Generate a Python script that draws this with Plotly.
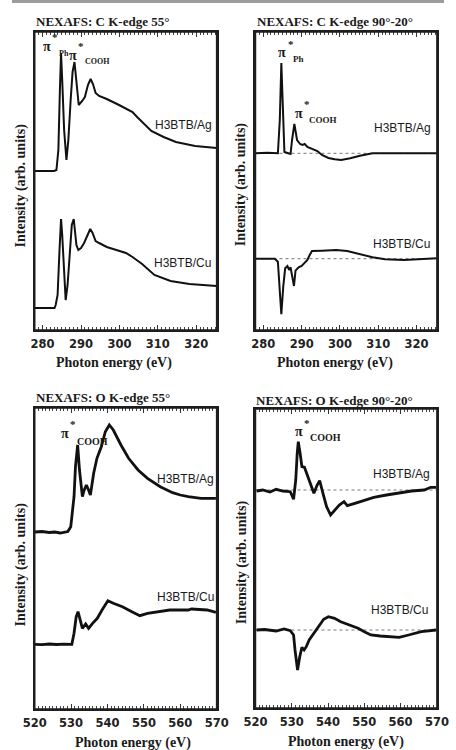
import plotly.graph_objects as go

W, H = 456, 750

# ---------------- data (photon energy in eV, intensity in arb. units) ----------------
# C K-edge 55°
c55_ag_ev = [277.95, 283.0, 283.6, 284.1, 284.5, 284.8, 285.1, 285.6, 286.2, 286.7, 287.3, 287.8,
             288.3, 288.7, 289.1, 289.4, 290.3, 291.0, 291.8, 292.5, 293.1, 293.8, 294.7, 296.7,
             299.9, 301.6, 303.4, 304.6, 305.9, 308.3, 311.5, 314.7, 319.7, 325.3]
c55_ag = [1.59, 1.59, 1.60, 1.80, 2.40, 2.77, 2.50, 2.00, 1.70, 1.90, 2.30, 2.58,
          2.68, 2.50, 2.30, 2.25, 2.29, 2.33, 2.45, 2.51, 2.46, 2.37, 2.34, 2.31,
          2.25, 2.22, 2.18, 2.13, 2.08, 1.99, 1.93, 1.88, 1.84, 1.82]
c55_cu_ev = [277.95, 283.1, 283.4, 283.9, 284.4, 284.8, 285.1, 285.6, 286.0, 286.5, 287.1, 287.6,
             288.1, 288.4, 288.8, 289.3, 290.0, 290.8, 291.8, 292.4, 293.0, 293.8, 294.7, 296.7,
             299.2, 301.7, 303.4, 305.9, 309.1, 313.3, 318.2, 325.3]
c55_cu = [0.22, 0.22, 0.25, 0.35, 0.80, 1.11, 0.95, 0.50, 0.30, 0.45, 0.80, 1.05,
          1.11, 0.98, 0.85, 0.80, 0.82, 0.87, 0.97, 1.01, 0.97, 0.89, 0.87, 0.83,
          0.80, 0.77, 0.73, 0.66, 0.55, 0.49, 0.46, 0.44]

# C K-edge 90°-20° (difference spectra)
c90_ag_ev = [277.95, 281.0, 283.8, 284.3, 284.7, 285.2, 285.5, 286.3, 287.1, 287.5, 288.1, 288.8,
             289.6, 290.2, 290.8, 291.5, 292.1, 292.8, 293.5, 294.1, 295.3, 297.0, 298.6, 300.3,
             302.7, 305.2, 308.5, 313.4, 318.3, 325.3]
c90_ag = [1.767, 1.772, 1.767, 2.10, 2.67, 1.97, 1.78, 1.77, 1.76, 1.90, 2.06, 1.90,
          1.86, 1.85, 1.86, 1.83, 1.82, 1.81, 1.80, 1.79, 1.75, 1.72, 1.707, 1.70,
          1.717, 1.743, 1.767, 1.767, 1.763, 1.767]
c90_cu_ev = [277.95, 283.0, 283.8, 284.3, 284.7, 285.2, 285.7, 286.3, 286.7, 287.1, 288.0, 288.4,
             289.2, 290.0, 290.8, 291.5, 292.1, 292.7, 295.3, 299.0, 301.9, 305.2, 308.5, 311.8,
             316.7, 325.3]
c90_cu = [0.713, 0.713, 0.683, 0.40, 0.157, 0.433, 0.617, 0.64, 0.60, 0.627, 0.44, 0.593,
          0.627, 0.64, 0.667, 0.70, 0.75, 0.79, 0.793, 0.80, 0.79, 0.76, 0.727, 0.707,
          0.70, 0.717]

# O K-edge 55°
o55_ag_ev = [520.0, 522.0, 524.0, 525.5, 527.0, 528.5, 529.1, 529.9, 530.8, 531.2, 531.8, 532.3,
             533.1, 533.6, 534.2, 534.8, 535.3, 536.2, 537.1, 538.3, 539.4, 540.5, 541.6, 543.7,
             545.8, 548.4, 551.0, 554.5, 557.9, 560.0, 562.2, 565.7, 569.8]
o55_ag = [1.77, 1.775, 1.765, 1.77, 1.76, 1.77, 1.775, 1.823, 2.123, 2.423, 2.64, 2.39,
          2.123, 2.19, 2.24, 2.19, 2.14, 2.357, 2.507, 2.623, 2.773, 2.84, 2.79, 2.64,
          2.507, 2.39, 2.307, 2.223, 2.163, 2.14, 2.123, 2.107, 2.107]
o55_cu_ev = [520.0, 522.0, 524.0, 526.0, 528.0, 530.2, 530.8, 531.4, 531.9, 532.5, 533.1, 534.0,
             534.8, 535.9, 537.2, 538.5, 540.1, 541.6, 544.1, 546.7, 548.9, 551.0, 554.5, 557.1,
             562.2, 563.1, 567.4, 569.8]
o55_cu = [0.647, 0.643, 0.65, 0.645, 0.648, 0.647, 0.757, 0.923, 0.973, 0.873, 0.807, 0.85,
          0.807, 0.857, 0.907, 0.99, 1.083, 1.057, 1.023, 0.973, 0.933, 0.957, 0.973, 0.99,
          0.99, 1.00, 0.99, 0.967]

# O K-edge 90°-20° (difference spectra)
o90_ag_ev = [520.3, 522.0, 524.0, 525.7, 527.5, 529.6, 530.5, 531.1, 531.5, 531.8, 532.3, 532.8,
             533.5, 534.4, 535.3, 536.1, 537.0, 537.7, 538.6, 539.6, 540.7, 541.8, 543.1, 544.4,
             545.3, 547.4, 550.0, 552.6, 556.1, 559.6, 563.0, 566.5, 568.3, 569.8]
o90_ag = [2.17, 2.18, 2.16, 2.187, 2.17, 2.163, 2.087, 2.28, 2.547, 2.663, 2.547, 2.413,
          2.407, 2.313, 2.213, 2.147, 2.23, 2.273, 2.147, 2.013, 1.93, 1.98, 2.03, 2.063,
          2.023, 2.047, 2.08, 2.107, 2.13, 2.153, 2.17, 2.18, 2.207, 2.207]
o90_cu_ev = [520.3, 522.5, 525.7, 527.9, 529.6, 530.5, 530.9, 531.6, 532.2, 532.8, 533.4, 534.0,
             534.8, 536.1, 537.4, 538.8, 540.1, 541.8, 543.5, 545.7, 548.3, 550.0, 551.8, 554.4,
             557.0, 559.6, 562.2, 565.7, 569.8]
o90_cu = [0.78, 0.785, 0.77, 0.79, 0.773, 0.73, 0.58, 0.38, 0.513, 0.607, 0.58, 0.613,
          0.68, 0.747, 0.813, 0.887, 0.913, 0.897, 0.863, 0.83, 0.797, 0.763, 0.73, 0.72,
          0.713, 0.707, 0.73, 0.763, 0.78]

# zero-difference reference levels for the 90°-20° panels [Ag, Cu]
c90_base = [1.767, 0.713]
o90_base = [2.18, 0.78]

panel_titles = ["NEXAFS: C K-edge 55°", "NEXAFS: C K-edge 90°-20°",
                "NEXAFS: O K-edge 55°", "NEXAFS: O K-edge 90°-20°"]
x_title = "Photon energy (eV)"
y_title = "Intensity (arb. units)"
sample_labels = ["H3BTB/Ag", "H3BTB/Cu"]
c_tick0, c_dtick = 280, 10
o_tick0, o_dtick = 520, 10

# ---------------- layout helpers ----------------
def P(px, py):
    return px / W, 1 - py / H

SERIF = "Liberation Serif"
SANS = "Liberation Sans"
INK = "#1a1a1a"
LINE = "#1e1e1e"

fig = go.Figure()

c_range = [277.95, 325.3]
o_range = [520, 570]

def add_curve(x, y, axis_idx, width):
    sfx = "" if axis_idx == 1 else str(axis_idx)
    fig.add_trace(go.Scatter(x=x, y=y, mode="lines", xaxis="x" + sfx, yaxis="y" + sfx,
                             line=dict(color="#111111", width=width), showlegend=False,
                             hoverinfo="skip"))

def add_base(level, xr, axis_idx):
    sfx = "" if axis_idx == 1 else str(axis_idx)
    fig.add_trace(go.Scatter(x=xr, y=[level, level], mode="lines", xaxis="x" + sfx, yaxis="y" + sfx,
                             line=dict(color="#777777", width=1, dash="3px,3px"), showlegend=False,
                             hoverinfo="skip"))

for b in c90_base:
    add_base(b, c_range, 2)
for b in o90_base:
    add_base(b, o_range, 4)

add_curve(c55_ag_ev, c55_ag, 1, 2)
add_curve(c55_cu_ev, c55_cu, 1, 2)
add_curve(c90_ag_ev, c90_ag, 2, 2)
add_curve(c90_cu_ev, c90_cu, 2, 2)
add_curve(o55_ag_ev, o55_ag, 3, 2.8)
add_curve(o55_cu_ev, o55_cu, 3, 2.8)
add_curve(o90_ag_ev, o90_ag, 4, 2.8)
add_curve(o90_cu_ev, o90_cu, 4, 2.8)

def xax(dom, rng, t0, dt, anchor, side="bottom", overlay=None):
    d = dict(domain=dom, range=rng, tickmode="linear", tick0=t0, dtick=dt, anchor=anchor, side=side,
             ticks="inside", ticklen=5, tickwidth=1.2, tickcolor="#333",
             showline=True, linecolor=LINE, linewidth=1.5,
             showgrid=False, zeroline=False, ticklabelstandoff=2,
             minor=dict(tickmode="linear", tick0=t0, dtick=1, ticks="inside", ticklen=3,
                        tickwidth=1, tickcolor="#444", showgrid=False),
             tickfont=dict(family="DejaVu Sans", size=11.5, color="#222", weight="bold"))
    if overlay:
        d.update(overlaying=overlay, showticklabels=False, fixedrange=True)
    return d

def yax(dom, rng, anchor):
    return dict(domain=dom, range=rng, showticklabels=False, ticks="", showline=True,
                linecolor=LINE, linewidth=1.5, mirror=True, showgrid=False, zeroline=False,
                anchor=anchor)

xd1 = [24 / W, 216 / W]
xd2 = [257 / W, 448.5 / W]
yd_top = [1 - 330 / H, 1 - 32 / H]
yd3 = [1 - 709 / H, 1 - 408 / H]
yd4 = [1 - 708 / H, 1 - 409 / H]

fig.update_layout(
    width=W, height=H, margin=dict(l=0, r=0, t=0, b=0),
    paper_bgcolor="white", plot_bgcolor="white",
    xaxis=xax(xd1, c_range, c_tick0, c_dtick, "y"),
    yaxis=yax(yd_top, [0, 2.98], "x"),
    xaxis2=xax(xd2, c_range, c_tick0, c_dtick, "y2"),
    yaxis2=yax(yd_top, [0, 2.98], "x2"),
    xaxis3=xax(xd1, o_range, o_tick0, o_dtick, "y3"),
    yaxis3=yax(yd3, [0, 3.01], "x3"),
    xaxis4=xax(xd2, o_range, o_tick0, o_dtick, "y4"),
    yaxis4=yax(yd4, [0, 2.99], "x4"),
    # top tick axes (mirrored ticks along the upper frame)
    xaxis5=xax(xd1, c_range, c_tick0, c_dtick, "y", side="top", overlay="x"),
    xaxis6=xax(xd2, c_range, c_tick0, c_dtick, "y2", side="top", overlay="x2"),
    xaxis7=xax(xd1, o_range, o_tick0, o_dtick, "y3", side="top", overlay="x3"),
    xaxis8=xax(xd2, o_range, o_tick0, o_dtick, "y4", side="top", overlay="x4"),
)

# invisible anchor traces so the top tick axes are drawn
for i, (rng, ya) in enumerate([(c_range, "y"), (c_range, "y2"), (o_range, "y3"), (o_range, "y4")]):
    fig.add_trace(go.Scatter(x=rng, y=[None, None], mode="lines", xaxis="x%d" % (5 + i), yaxis=ya,
                             showlegend=False, hoverinfo="skip"))

# frame around each panel
for xr, yr in [("x domain", "y domain"), ("x2 domain", "y2 domain"),
               ("x3 domain", "y3 domain"), ("x4 domain", "y4 domain")]:
    fig.add_shape(type="rect", xref=xr, yref=yr, x0=0, x1=1, y0=0, y1=1,
                  line=dict(color=LINE, width=1.5), fillcolor="rgba(0,0,0,0)", layer="above")

ann = []

def text(t, px, py, size, family=SERIF, bold=True, xanchor="left", angle=0):
    x, y = P(px, py)
    ann.append(dict(text=t, x=x, y=y, xref="paper", yref="paper",
                    xanchor=xanchor, yanchor="middle", showarrow=False, textangle=angle,
                    font=dict(family=family, size=size, color=INK,
                              weight="bold" if bold else "normal")))

# panel titles
text(panel_titles[0], 23, 22, 13)
text(panel_titles[1], 256, 22, 13)
text(panel_titles[2], 23, 397, 13)
text(panel_titles[3], 255, 400, 13)

# x titles
text(x_title, 107.5, 363, 14, xanchor="center")
text(x_title, 341, 363, 14, xanchor="center")
text(x_title, 127.5, 743, 14, xanchor="center")
text(x_title, 353, 742, 14, xanchor="center")

# y titles
text(y_title, 10, 185, 14, xanchor="center", angle=-90)
text(y_title, 242, 184, 14, xanchor="center", angle=-90)
text(y_title, 10, 564, 14, xanchor="center", angle=-90)
text(y_title, 243, 562, 14, xanchor="center", angle=-90)

# sample labels
text(sample_labels[0], 181, 125, 12, family=SANS, bold=False, xanchor="center")
text(sample_labels[1], 180, 263, 12, family=SANS, bold=False, xanchor="center")
text(sample_labels[0], 412, 128, 12, family=SANS, bold=False, xanchor="center")
text(sample_labels[1], 411, 244, 12, family=SANS, bold=False, xanchor="center")
text(sample_labels[0], 183, 479, 12, family=SANS, bold=False, xanchor="center")
text(sample_labels[1], 183, 597, 12, family=SANS, bold=False, xanchor="center")
text(sample_labels[0], 411, 474, 12, family=SANS, bold=False, xanchor="center")
text(sample_labels[1], 409, 610, 12, family=SANS, bold=False, xanchor="center")

# peak assignments: pi, star, subscript
def peak_label(px, py, sub, sub_dx, sub_dy, sub_size):
    text("π", px, py, 14, xanchor="center")
    text("*", px + 8.5, py - 9, 11, xanchor="center")
    text(sub, px + sub_dx, py + sub_dy, sub_size)

peak_label(36.5, 46, "Ph", 10.5, 8, 8)
peak_label(64.5, 55, "COOH", 10.5, 6, 8)
peak_label(285.5, 53, "Ph", 8.5, 6, 9)
peak_label(302.5, 113, "COOH", 8.5, 7, 9)
peak_label(56, 433, "COOH", 10.5, 8, 10)
peak_label(302.5, 432, "COOH", 9.5, 5, 10)

fig.update_layout(annotations=ann)

# top grey band
fig.add_shape(type="rect", xref="paper", yref="paper", x0=0, x1=1, y0=1 - 3 / H, y1=1,
              fillcolor="#9c9c9c", line=dict(width=0), layer="above")

fig.write_html("out.html")
